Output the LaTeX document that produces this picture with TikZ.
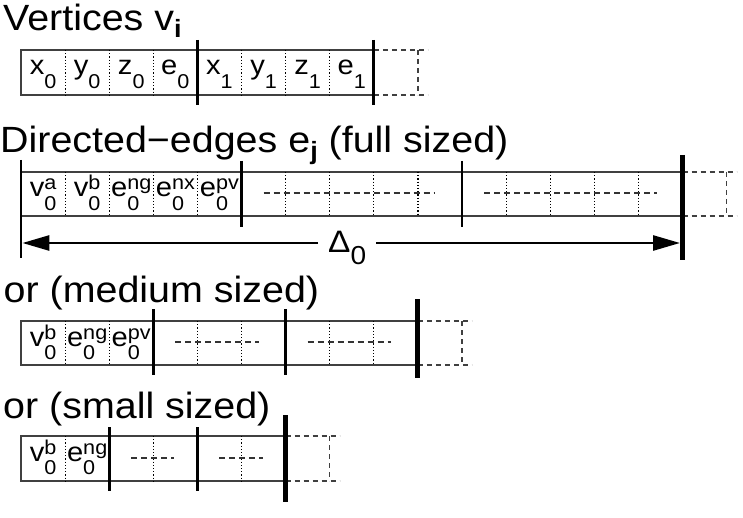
\documentclass[tikz,border=0pt]{standalone}
\usepackage{fontspec}
\setmainfont[FakeStretch=1.08]{Liberation Sans}
\usetikzlibrary{calc,positioning,arrows.meta}

\newcommand\titlesize{\fontsize{36.5}{40}\selectfont}
\newcommand\cellsize{\fontsize{27}{30}\selectfont}
\newcommand\smallsize{\fontsize{20}{22}\selectfont}
\newcommand\lo[1]{\raisebox{-13.5pt}{\smallsize #1}}
\newcommand\hi[1]{\raisebox{7pt}{\smallsize #1}}
\newcommand\fld[3]{#1\rlap{\lo{#3}}\hi{#2}}
\newcommand\tsub[1]{\raisebox{-7pt}{\fontsize{25}{27}\selectfont\bfseries #1}}

\begin{document}
\begin{tikzpicture}
  [x=1pt, y=-1pt,
   title/.style={anchor=base west, inner sep=0pt, font=\titlesize},
   cell/.style={anchor=base, inner sep=0pt, font=\cellsize},
   frame/.style={line width=1.5pt, color=black!75},
   sep/.style={line width=1.2pt, dash pattern=on 1.2pt off 2pt},
   bar/.style={line width=2.7pt},
   endbar/.style={line width=5pt},
   more/.style={line width=1.2pt, color=black!75, dash pattern=on 5pt off 4pt},
   gap/.style={line width=1.2pt, color=black!80, dash pattern=on 6pt off 4pt},
   dim/.style={line width=2.7pt, -{Triangle[length=27pt,width=15pt]}}]

  \useasboundingbox (0,0) rectangle (743,518);
  \def\w{44.1}

  % vertices
  \node [title] (vtitle) at (3,31) {Vertices v\tsub{i}};
  \coordinate (v0) at (21,50);
  \draw [frame] (v0) rectangle ++(8*\w,45);
  \draw [more] ($(v0)+(8*\w,0)$) -- ++(54,0) ($(v0)+(8*\w,45)$) -- ++(54,0);
  \draw [more] ($(v0)+(9*\w,0)$) -- ++(0,45);
  \foreach \k in {1,2,3,5,6,7}
    \draw [sep] ($(v0)+(\k*\w,0)$) -- ++(0,45);
  \foreach \k in {4,8}
    \draw [bar] ($(v0)+(\k*\w,-10)$) -- ++(0,65);
  \foreach \t [count=\k from 0] in {x\lo{0},y\lo{0},z\lo{0},e\lo{0},x\lo{1},y\lo{1},z\lo{1},e\lo{1}}
    \node [cell] (vc\k) at ($(v0)+(\k*\w+0.5*\w,25)$) {\t};

  % directed edges, full
  \node [title] (dtitle) at (0,153) {Directed−edges e\tsub{j} (full sized)};
  \coordinate (d0) at (21,172);
  \draw [frame] (d0) rectangle ++(15*\w,44);
  \draw [more] ($(d0)+(15*\w,0)$) -- ++(54,0) ($(d0)+(15*\w,44)$) -- ++(54,0);
  \draw [more] ($(d0)+(16*\w,0)$) -- ++(0,44);
  \foreach \k in {1,2,3,4,6,7,8,9,11,12,13,14}
    \draw [sep] ($(d0)+(\k*\w,0)$) -- ++(0,44);
  \foreach \k in {5,10}
    \draw [bar] ($(d0)+(\k*\w,-11)$) -- ++(0,66);
  \draw [bar] ($(d0)+(0,-12)$) -- ++(0,98);
  \draw [endbar] ($(d0)+(15*\w,-17)$) -- ++(0,105);
  \draw [gap] ($(d0)+(5*\w+22,21)$) -- ($(d0)+(10*\w-27,21)$);
  \draw [gap] ($(d0)+(10*\w+22,21)$) -- ($(d0)+(15*\w-26,21)$);
  \foreach \t [count=\k from 0] in {{\fld{v}{a}{0}},{\fld{v}{b}{0}},{\fld{e}{ng}{0}},{\fld{e}{nx}{0}},{\fld{e}{pv}{0}}}
    \node [cell] (dc\k) at ($(d0)+(\k*\w+0.5*\w,25)$) {\t};

  % span of one edge record
  \coordinate (arrL) at ($(d0)+(1.4,71)$);
  \coordinate (arrR) at ($(d0)+(15*\w-2.5,71)$);
  \node [anchor=base west, inner xsep=10pt, inner ysep=0pt, font=\fontsize{31}{34}\selectfont]
    (delta) at (318,253) {Δ\raisebox{-12pt}{\fontsize{26}{28}\selectfont 0}};
  \draw [dim] (arrL -| delta.west) -- (arrL);
  \draw [dim] (arrR -| delta.east) -- (arrR);

  % medium
  \node [title] (mtitle) at (3.5,302) {or (medium sized)};
  \coordinate (m0) at (21,321);
  \draw [frame] (m0) rectangle ++(9*\w,44);
  \draw [more] ($(m0)+(9*\w,0)$) -- ++(54,0) ($(m0)+(9*\w,44)$) -- ++(54,0);
  \draw [more] ($(m0)+(10*\w,0)$) -- ++(0,44);
  \foreach \k in {1,2,4,5,7,8}
    \draw [sep] ($(m0)+(\k*\w,0)$) -- ++(0,44);
  \foreach \k in {3,6}
    \draw [bar] ($(m0)+(\k*\w,-12)$) -- ++(0,66);
  \draw [endbar] ($(m0)+(9*\w,-22)$) -- ++(0,79);
  \draw [gap] ($(m0)+(3*\w+22,21)$) -- ($(m0)+(6*\w-27,21)$);
  \draw [gap] ($(m0)+(6*\w+22,21)$) -- ($(m0)+(9*\w-27,21)$);
  \foreach \t [count=\k from 0] in {{\fld{v}{b}{0}},{\fld{e}{ng}{0}},{\fld{e}{pv}{0}}}
    \node [cell] (mc\k) at ($(m0)+(\k*\w+0.5*\w,25)$) {\t};

  % small
  \node [title] (stitle) at (3,418) {or (small sized)};
  \coordinate (s0) at (21,436);
  \draw [frame] (s0) rectangle ++(6*\w,45);
  \draw [more] ($(s0)+(6*\w,0)$) -- ++(54,0) ($(s0)+(6*\w,45)$) -- ++(54,0);
  \draw [more] ($(s0)+(7*\w,0)$) -- ++(0,45);
  \foreach \k in {1,3,5}
    \draw [sep] ($(s0)+(\k*\w,0)$) -- ++(0,45);
  \foreach \k in {2,4}
    \draw [bar] ($(s0)+(\k*\w,-9)$) -- ++(0,64);
  \draw [endbar] ($(s0)+(6*\w,-21)$) -- ++(0,87);
  \draw [gap] ($(s0)+(2*\w+22,22)$) -- ($(s0)+(4*\w-23,22)$);
  \draw [gap] ($(s0)+(4*\w+22,22)$) -- ($(s0)+(6*\w-23,22)$);
  \foreach \t [count=\k from 0] in {{\fld{v}{b}{0}},{\fld{e}{ng}{0}}}
    \node [cell] (sc\k) at ($(s0)+(\k*\w+0.5*\w,25)$) {\t};

\end{tikzpicture}
\end{document}
